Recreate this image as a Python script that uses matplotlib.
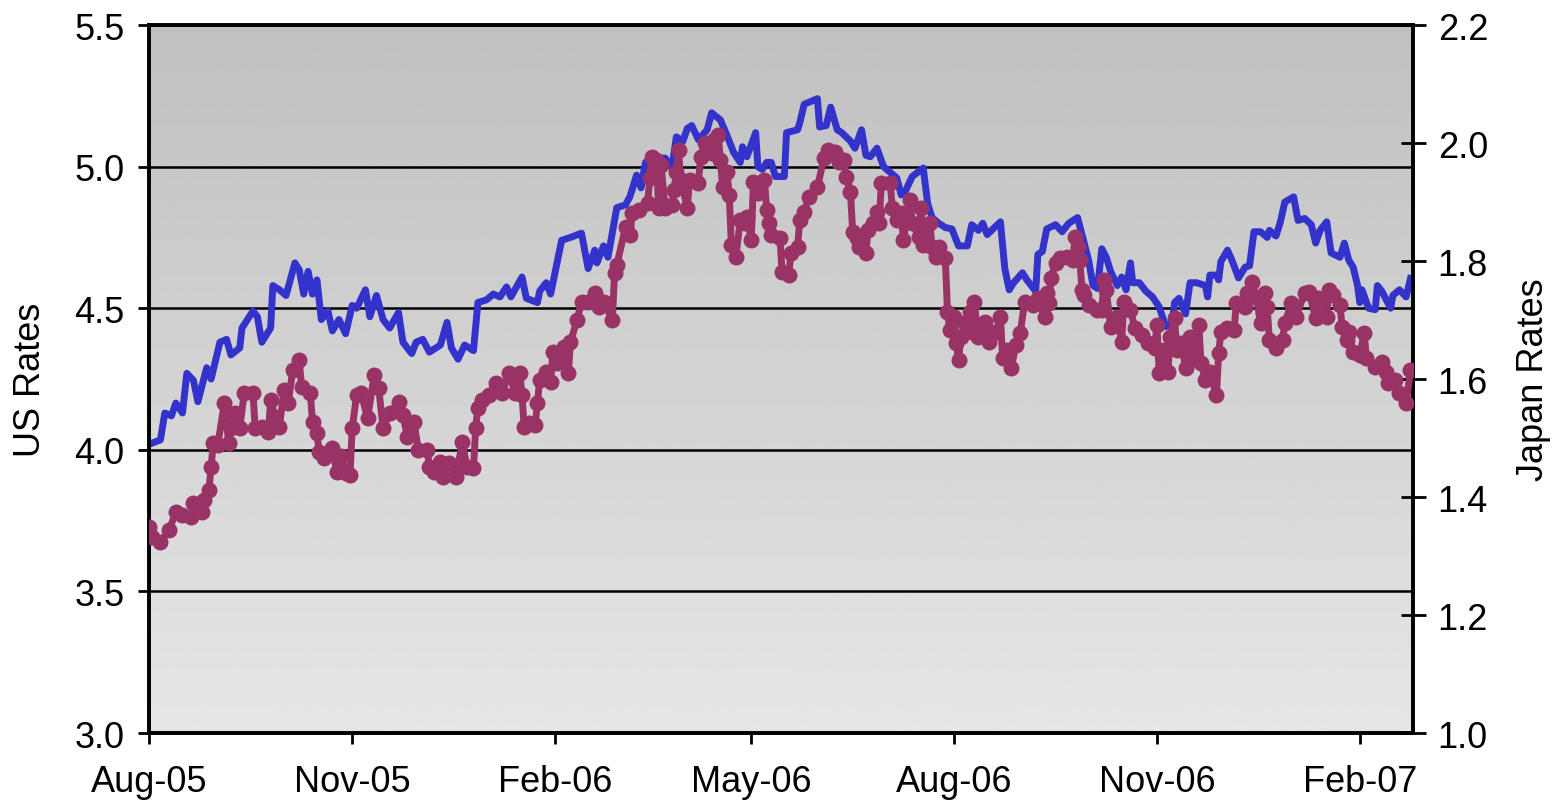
import numpy as np
import pandas as pd
import matplotlib
matplotlib.use("Agg")
import matplotlib.pyplot as plt
import matplotlib.dates as mdates
from matplotlib.ticker import FormatStrFormatter, MultipleLocator

plt.rcParams['font.family'] = ['Liberation Sans', 'DejaVu Sans']

# ---- data: days counted from 1 Aug 2005, rates ----
start = pd.Timestamp('2005-08-01')

us_day = [0, 5, 7, 10, 12, 15, 17, 20, 22, 26, 28, 32, 35, 37, 41, 42, 47, 49, 51, 55,
          56, 59, 62, 66, 68, 70, 72, 74, 76, 78, 81, 83, 86, 89, 92, 94, 98, 100, 103, 106,
          109, 113, 115, 119, 121, 124, 127, 132, 135, 137, 140, 143, 147, 149, 153, 156, 159, 162, 164, 169,
          171, 176, 177, 180, 182, 187, 191, 196, 199, 202, 203, 206, 208, 212, 216, 218, 221, 223, 225, 229,
          234, 237, 239, 242, 244, 246, 249, 253, 255, 259, 262, 265, 268, 269, 271, 275, 276, 278, 280, 282,
          284, 288, 289, 294, 295, 297, 300, 303, 304, 307, 309, 312, 314, 318, 320, 323, 325, 327, 330, 333,
          336, 339, 341, 343, 346, 351, 353, 355, 358, 361, 364, 367, 371, 373, 376, 378, 380, 386, 388, 390,
          392, 396, 398, 402, 403, 405, 407, 411, 414, 417, 421, 423, 426, 428, 430, 432, 434, 436, 439, 441,
          443, 445, 446, 449, 452, 455, 458, 461, 464, 465, 467, 470, 472, 475, 479, 480, 481, 484, 485, 486,
          489, 491, 494, 497, 499, 501, 504, 507, 508, 511, 513, 515, 519, 521, 524, 527, 529, 531, 534, 536,
          540, 542, 544, 546, 548, 549, 550, 553, 556, 557, 559, 563, 564, 567, 570, 572]
us_rate = [4.02, 4.035, 4.13, 4.12, 4.165, 4.13, 4.27, 4.245, 4.17, 4.29, 4.25, 4.38, 4.39, 4.335, 4.36, 4.43, 4.49, 4.47, 4.38, 4.43,
           4.58, 4.565, 4.545, 4.66, 4.635, 4.55, 4.63, 4.55, 4.60, 4.46, 4.49, 4.42, 4.46, 4.41, 4.51, 4.50, 4.565, 4.47, 4.545, 4.46,
           4.43, 4.485, 4.38, 4.34, 4.38, 4.39, 4.345, 4.37, 4.45, 4.36, 4.32, 4.37, 4.35, 4.52, 4.53, 4.55, 4.54, 4.575, 4.54, 4.61,
           4.535, 4.52, 4.56, 4.59, 4.55, 4.74, 4.75, 4.765, 4.64, 4.705, 4.66, 4.72, 4.68, 4.855, 4.865, 4.895, 4.97, 4.925, 5.015, 5.03,
           5.03, 4.995, 5.105, 5.09, 5.135, 5.145, 5.095, 5.13, 5.19, 5.165, 5.11, 5.05, 5.015, 5.07, 5.035, 5.12, 5.0, 4.99, 5.015, 5.015,
           4.965, 4.965, 5.12, 5.13, 5.155, 5.22, 5.23, 5.24, 5.14, 5.145, 5.21, 5.13, 5.12, 5.09, 5.065, 5.13, 5.04, 5.035, 5.065, 5.0,
           4.98, 4.96, 4.90, 4.915, 4.965, 4.995, 4.87, 4.82, 4.80, 4.785, 4.78, 4.72, 4.72, 4.795, 4.775, 4.80, 4.76, 4.805, 4.64, 4.565,
           4.59, 4.625, 4.60, 4.56, 4.69, 4.70, 4.78, 4.795, 4.77, 4.80, 4.82, 4.76, 4.67, 4.58, 4.57, 4.71, 4.68, 4.63, 4.58, 4.61,
           4.565, 4.66, 4.59, 4.59, 4.56, 4.54, 4.505, 4.435, 4.45, 4.52, 4.535, 4.48, 4.59, 4.59, 4.58, 4.54, 4.617, 4.617, 4.60, 4.665,
           4.705, 4.67, 4.607, 4.645, 4.65, 4.77, 4.77, 4.75, 4.775, 4.755, 4.805, 4.875, 4.893, 4.81, 4.817, 4.795, 4.73, 4.775, 4.805, 4.695,
           4.68, 4.73, 4.67, 4.645, 4.58, 4.52, 4.565, 4.50, 4.495, 4.58, 4.56, 4.50, 4.545, 4.565, 4.54, 4.605]

jp_day = [0, 1, 5, 9, 12, 15, 19, 20, 24, 25, 27, 28, 29, 31, 34, 36, 37, 39, 41, 43,
          47, 48, 51, 54, 55, 57, 59, 61, 63, 65, 68, 69, 73, 74, 76, 77, 79, 83, 85, 87,
          89, 91, 92, 94, 96, 99, 102, 104, 106, 109, 113, 115, 117, 120, 122, 126, 127, 129, 132, 133,
          136, 139, 142, 144, 147, 148, 149, 151, 154, 157, 160, 163, 166, 168, 169, 170, 172, 175, 176, 177,
          180, 182, 183, 185, 188, 190, 191, 194, 196, 199, 202, 204, 206, 210, 211, 212, 216, 218, 219, 222,
          226, 227, 228, 230, 231, 232, 234, 237, 238, 239, 240, 241, 244, 245, 249, 250, 252, 255, 256, 258,
          259, 260, 262, 263, 264, 266, 268, 270, 271, 273, 274, 276, 279, 280, 281, 282, 286, 287, 290, 291,
          294, 295, 297, 299, 303, 306, 308, 311, 313, 315, 316, 318, 319, 321, 322, 325, 326, 328, 330, 331,
          332, 336, 337, 339, 341, 342, 345, 346, 349, 350, 351, 354, 355, 357, 358, 361, 362, 363, 365, 366,
          367, 368, 370, 372, 373, 374, 376, 379, 381, 384, 386, 387, 389, 391, 393, 395, 397, 401, 403, 406,
          407, 408, 409, 411, 413, 416, 419, 420, 421, 422, 423, 424, 426, 430, 432, 433, 434, 436, 439, 441,
          442, 445, 447, 450, 453, 456, 457, 458, 460, 462, 463, 465, 466, 468, 470, 472, 473, 476, 477, 479,
          481, 484, 485, 486, 489, 492, 493, 497, 498, 500, 502, 504, 506, 507, 508, 511, 514, 515, 518, 520,
          524, 526, 529, 530, 534, 535, 537, 540, 541, 543, 544, 546, 549, 551, 552, 556, 559, 561, 562, 565,
          567, 570, 572]
jp_rate = [1.349, 1.332, 1.324, 1.344, 1.375, 1.37, 1.366, 1.39, 1.375, 1.395, 1.412, 1.451, 1.492, 1.488, 1.559, 1.492, 1.517, 1.542, 1.517, 1.576,
           1.576, 1.517, 1.519, 1.51, 1.564, 1.536, 1.519, 1.581, 1.559, 1.615, 1.632, 1.587, 1.576, 1.527, 1.508, 1.476, 1.466, 1.483, 1.442, 1.47,
           1.44, 1.437, 1.517, 1.573, 1.576, 1.534, 1.607, 1.585, 1.517, 1.542, 1.561, 1.539, 1.502, 1.527, 1.48, 1.48, 1.451, 1.442, 1.459, 1.434,
           1.458, 1.434, 1.493, 1.451, 1.449, 1.517, 1.551, 1.564, 1.573, 1.593, 1.576, 1.61, 1.576, 1.61, 1.573, 1.519, 1.525, 1.522, 1.559, 1.598,
           1.612, 1.595, 1.646, 1.627, 1.654, 1.61, 1.663, 1.70, 1.731, 1.731, 1.746, 1.722, 1.731, 1.70, 1.78, 1.793, 1.858, 1.844, 1.881, 1.886,
           1.898, 1.941, 1.976, 1.971, 1.89, 1.963, 1.89, 1.895, 1.92, 1.951, 1.988, 1.937, 1.89, 1.937, 1.932, 1.976, 2.0, 1.983, 2.005, 2.014,
           1.971, 1.925, 1.951, 1.912, 1.827, 1.807, 1.869, 1.864, 1.875, 1.836, 1.934, 1.915, 1.937, 1.886, 1.864, 1.844, 1.839, 1.781, 1.776, 1.814,
           1.824, 1.869, 1.883, 1.908, 1.925, 1.975, 1.988, 1.985, 1.968, 1.971, 1.942, 1.917, 1.849, 1.839, 1.824, 1.814, 1.853, 1.864, 1.883, 1.864,
           1.932, 1.932, 1.89, 1.869, 1.881, 1.836, 1.903, 1.864, 1.841, 1.89, 1.827, 1.864, 1.824, 1.807, 1.824, 1.805, 1.714, 1.683, 1.705, 1.661,
           1.632, 1.671, 1.695, 1.714, 1.68, 1.731, 1.671, 1.697, 1.663, 1.68, 1.705, 1.636, 1.649, 1.619, 1.658, 1.678, 1.731, 1.725, 1.737, 1.705,
           1.746, 1.729, 1.771, 1.797, 1.805, 1.807, 1.802, 1.841, 1.824, 1.802, 1.751, 1.742, 1.725, 1.717, 1.717, 1.768, 1.751, 1.688, 1.705, 1.663,
           1.731, 1.717, 1.686, 1.675, 1.661, 1.653, 1.692, 1.61, 1.649, 1.612, 1.671, 1.703, 1.649, 1.661, 1.619, 1.671, 1.636, 1.692, 1.627, 1.598,
           1.612, 1.573, 1.644, 1.68, 1.686, 1.683, 1.729, 1.722, 1.746, 1.764, 1.739, 1.695, 1.746, 1.722, 1.666, 1.653, 1.666, 1.695, 1.729, 1.705,
           1.746, 1.747, 1.703, 1.737, 1.705, 1.751, 1.742, 1.725, 1.688, 1.666, 1.68, 1.646, 1.641, 1.678, 1.636, 1.62, 1.629, 1.612, 1.593, 1.598,
           1.576, 1.559, 1.615]

us_dates = start + pd.to_timedelta(us_day, unit='D')
jp_dates = start + pd.to_timedelta(jp_day, unit='D')

# ---- figure ----
fig = plt.figure(figsize=(15.56, 8.03), dpi=100)
ax1 = fig.add_axes([0.0960, 0.0859, 0.8119, 0.8817])
ax2 = ax1.twinx()

# grey gradient background (darker at the top, lighter at the bottom)
grad = np.linspace(0.753, 0.900, 256).reshape(-1, 1)
ax1.imshow(grad, cmap='gray', vmin=0, vmax=1, aspect='auto', origin='upper',
           extent=[0, 1, 0, 1], transform=ax1.transAxes, zorder=0)

ax1.plot(us_dates, us_rate, color='#3333CC', lw=5, solid_joinstyle='round', zorder=3)
ax2.plot(jp_dates, jp_rate, color='#993366', lw=5, marker='o', markersize=11.5,
         markeredgewidth=0, solid_joinstyle='round', zorder=3)

ax1.set_xlim(start, start + pd.Timedelta(days=573))
ax1.set_ylim(3.0, 5.5)
ax2.set_ylim(1.0, 2.2)

ax1.yaxis.set_major_locator(MultipleLocator(0.5))
ax1.yaxis.set_major_formatter(FormatStrFormatter('%.1f'))
ax2.yaxis.set_major_locator(MultipleLocator(0.2))
ax2.yaxis.set_major_formatter(FormatStrFormatter('%.1f'))

ax1.xaxis.set_major_locator(mdates.MonthLocator(bymonth=[2, 5, 8, 11]))
ax1.xaxis.set_major_formatter(mdates.DateFormatter('%b-%y'))

ax1.set_axisbelow(True)
ax1.grid(axis='y', color='black', lw=1.8)
ax1.grid(axis='x', visible=False)

for sp in ax1.spines.values():
    sp.set_linewidth(2.6)
for sp in ax2.spines.values():
    sp.set_linewidth(2.6)

ax1.tick_params(axis='y', direction='out', length=8, width=2, pad=10, labelsize=26)
ax1.tick_params(axis='x', direction='out', length=8, width=2, pad=14, labelsize=26)
ax2.tick_params(axis='y', direction='inout', length=18, width=2, pad=9, labelsize=26)

ax1.set_ylabel('US Rates', fontsize=26)
ax2.set_ylabel('Japan Rates', fontsize=26)
ax1.yaxis.set_label_coords(-0.080, 0.5)
ax2.yaxis.set_label_coords(1.082, 0.5)

fig.savefig('out.png', dpi=100)
